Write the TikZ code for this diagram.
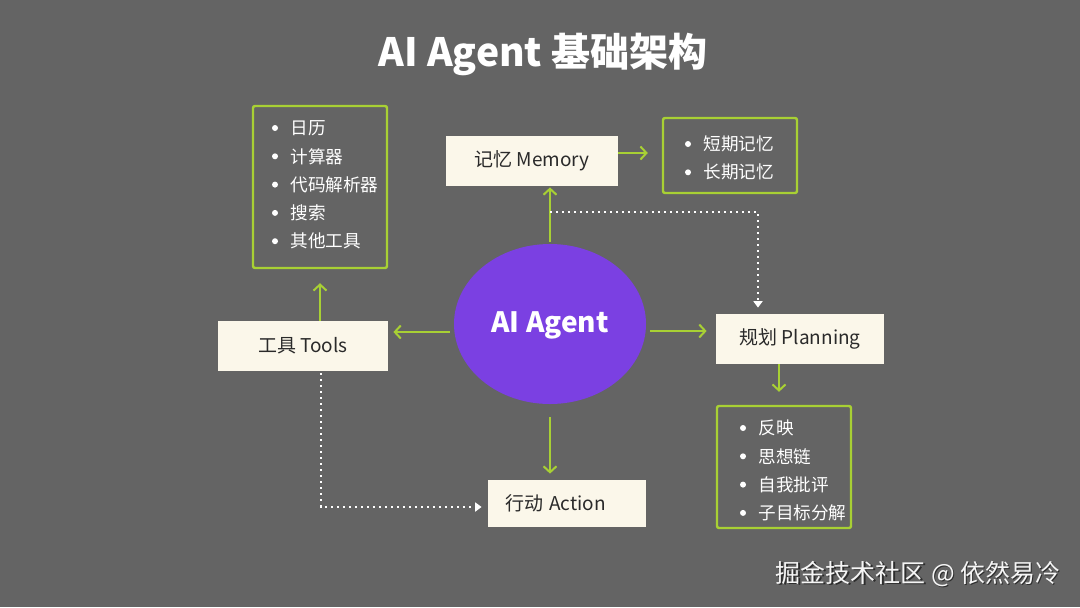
\documentclass[tikz,border=0pt]{standalone}
\usepackage{fontspec}
\setmainfont{Noto Sans CJK SC}
\usetikzlibrary{shapes.geometric,arrows.meta,calc}
\definecolor{bg}{RGB}{100,100,100}
\definecolor{cream}{RGB}{251,247,234}
\definecolor{lime}{RGB}{168,208,52}
\definecolor{violet}{RGB}{123,64,226}
\definecolor{ink}{RGB}{42,42,42}
\tikzset{
  cbox/.style={fill=cream, draw=none, inner sep=0pt, text=ink, font=\fontsize{9.5}{11}\selectfont},
  lbox/.style={draw=lime, line width=1.2pt, rounded corners=1pt, inner sep=0pt},
  item/.style={anchor=west, inner sep=0pt, text=white, font=\fontsize{8.8}{10}\selectfont},
  arr/.style={draw=lime, line width=1pt, -{Straight Barb[length=3pt,width=6.5pt,line width=1pt]}},
  dotarr/.style={draw=white, line width=1pt, dotted, -{Triangle[length=3.2pt,width=4.5pt]}},
}
\newcommand{\bullets}[3]{% x of bullet, first y, list
  \foreach \t [count=\i] in {#3} {
    \fill[white] (#1, {#2+(\i-1)*28.3}) circle (1.5pt);
    \node[item] (it\t) at (#1+15, {#2+(\i-1)*28.3}) {\t};
  }}
\begin{document}
\begin{tikzpicture}[x=0.5pt,y=-0.5pt]
\fill[bg] (0,0) rectangle (1080,607);
\useasboundingbox (0,0) rectangle (1080,607);

% title
\node[text=white, font=\bfseries\fontsize{19.5}{22}\selectfont] (title) at (543,54) {AI Agent 基础架构};

% central ellipse
\node[ellipse, fill=violet, minimum width=96pt, minimum height=80pt, inner sep=0pt] (agent) at (550,324) {};
\node[text=white, font=\bfseries\fontsize{14}{16}\selectfont] (agentlbl) at (550,325.5) {AI Agent};

% boxes
\node[cbox, minimum width=86pt, minimum height=25pt] (mem) at (532,161) {记忆 Memory};
\node[cbox, minimum width=85pt, minimum height=25pt] (tools) at (303,346) {工具 Tools};
\node[cbox, minimum width=84pt, minimum height=25pt] (plan) at (800,339) {规划 Planning};
\node[cbox, minimum height=23.5pt, inner xsep=8.5pt, text width=62pt, align=left] (action) at (567,503.5) {行动 Action};

% list boxes
\node[lbox, minimum width=67pt, minimum height=81pt] (toolslist) at (320,187) {};
\bullets{275}{128}{日历,计算器,代码解析器,搜索,其他工具}
\node[lbox, minimum width=67pt, minimum height=37.5pt] (memlist) at (730,155.5) {};
\bullets{688}{144}{短期记忆,长期记忆}
\node[lbox, minimum width=67pt, minimum height=61pt] (planlist) at (784,467) {};
\bullets{743}{428}{反映,思想链,自我批评,子目标分解}

% connectors
\draw[arr, shorten <=1pt, shorten >=0.5pt] (agent.north) -- (agent.north |- mem.south);
\draw[arr, shorten >=7pt] ([yshift=4pt]mem.east) -- ([yshift=4pt]mem.east -| memlist.west);
\draw[arr, shorten <=2pt, shorten >=2.5pt] ([yshift=-4pt]agent.west) -- ([yshift=-4pt]agent.west -| tools.east);
\draw[arr, shorten >=7pt] ([xshift=8.5pt]tools.north) -- ([xshift=8.5pt]tools.north |- toolslist.south);
\draw[arr, shorten <=6.5pt, shorten >=3pt] (agent.south) -- (agent.south |- action.north);
\draw[arr, shorten <=2pt, shorten >=4.5pt] ([yshift=-3.5pt]agent.east) -- ([yshift=-3.5pt]agent.east -| plan.west);
\draw[arr, shorten >=6.5pt] ([xshift=-10.5pt]plan.south) -- ([xshift=-10.5pt]plan.south |- planlist.north);

\coordinate (split) at (550,212);
\draw[dotarr, shorten >=3pt] (split) -| ([xshift=-21pt]plan.north);
\draw[dotarr, shorten <=1pt, shorten >=3pt] ([xshift=9pt]tools.south) |- ([yshift=-1.75pt]action.west);

% watermark
\node[text=black, opacity=0.55, font=\fontsize{12.5}{14}\selectfont] (wmshadow) at (919.5,575.5) {掘金技术社区 @ 依然易冷};
\node[text=white!92!gray, font=\fontsize{12.5}{14}\selectfont] (wm) at (918,574) {掘金技术社区 @ 依然易冷};
\end{tikzpicture}
\end{document}
